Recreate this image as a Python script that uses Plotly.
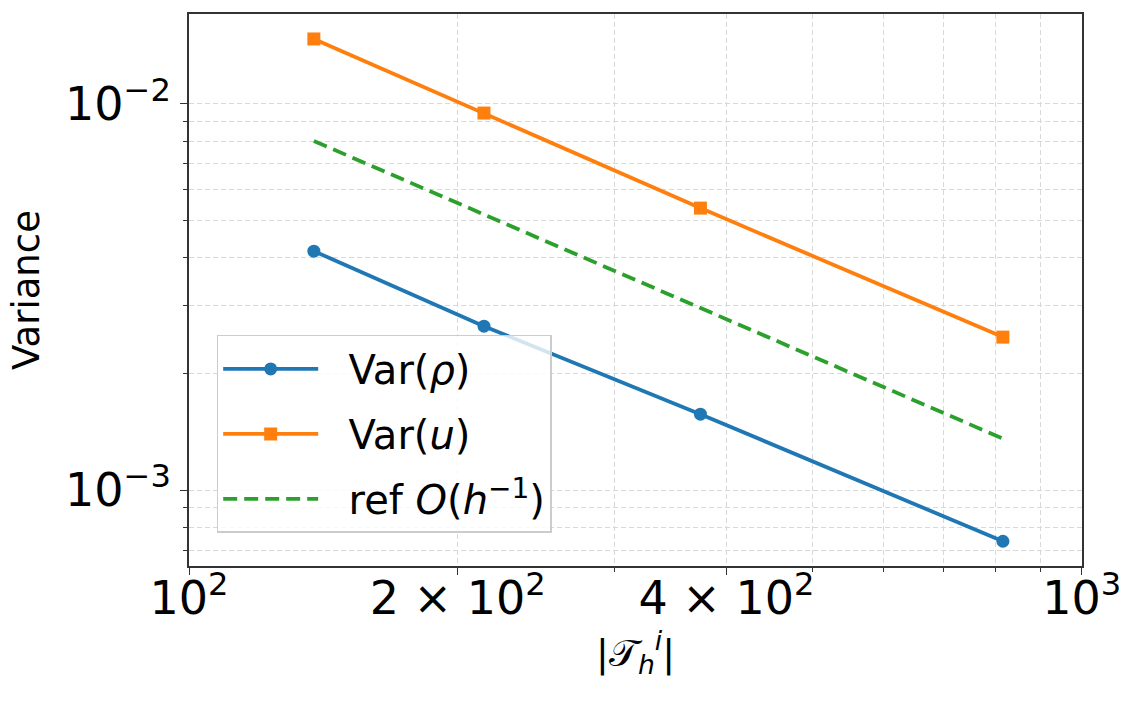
import plotly.graph_objects as go

# Data
mesh_sizes = [138, 214, 374, 816]
var_rho = [0.004156, 0.002658, 0.001573, 0.000738]
var_u = [0.01471, 0.00946, 0.00537, 0.00249]
ref_line = [0.00801, 0.00517, 0.00296, 0.00136]

x_major_vals = [100, 200, 400, 1000]
x_major_text = ["10<sup>2</sup>", "2 × 10<sup>2</sup>", "4 × 10<sup>2</sup>", "10<sup>3</sup>"]
x_minor_vals = [300, 500, 600, 700, 800, 900]
y_major_vals = [0.001, 0.01]
y_major_text = ["10<sup>−3</sup>", "10<sup>−2</sup>"]
y_minor_vals = [0.0007, 0.0008, 0.0009, 0.002, 0.003, 0.004, 0.005, 0.006, 0.007, 0.008, 0.009]

BLUE = "#1f77b4"
ORANGE = "#ff7f0e"
GREEN = "#2ca02c"
FONT = "DejaVu Sans"
GRID = "#d9d9d9"
SPINE = "#333333"
PAD = "&nbsp;&nbsp;"

fig = go.Figure()
fig.add_trace(go.Scatter(x=mesh_sizes, y=var_rho, mode="lines+markers", name=PAD + "Var(<i>ρ</i>)",
                         line=dict(color=BLUE, width=3.8), marker=dict(symbol="circle", size=13, color=BLUE),
                         legendgroup="a"))
fig.add_trace(go.Scatter(x=mesh_sizes, y=var_u, mode="lines+markers", name=PAD + "Var(<i>u</i>)",
                         line=dict(color=ORANGE, width=3.8), marker=dict(symbol="square", size=13, color=ORANGE),
                         legendgroup="b"))
fig.add_trace(go.Scatter(x=mesh_sizes, y=ref_line, mode="lines", name=PAD + "ref <i>O</i>(<i>h</i><sup>−1</sup>)",
                         line=dict(color=GREEN, width=3.8, dash="14px,7px"), legendgroup="c"))

axis_common = dict(
    type="log", showline=True, linecolor=SPINE, linewidth=1.5, mirror=True,
    ticks="outside", ticklen=7, tickwidth=1.3, tickcolor=SPINE,
    showgrid=True, gridcolor=GRID, gridwidth=1.2, griddash="5px,3px",
    zeroline=False, tickfont=dict(family=FONT, size=46, color="black"),
)

fig.update_xaxes(
    **axis_common, range=[2, 3.0003], tickmode="array", tickvals=x_major_vals, ticktext=x_major_text,
    ticklabelstandoff=-16, automargin=True,
    minor=dict(tickmode="array", tickvals=x_minor_vals, ticks="outside", ticklen=4, tickwidth=1.1,
               tickcolor=SPINE, showgrid=True, gridcolor=GRID, gridwidth=1.2, griddash="5px,3px"),
    title=dict(text="|𝒯<sub><i>h</i></sub><sup><i>i</i></sup>|", font=dict(family=FONT, size=38, color="black"),
               standoff=14),
)
fig.update_yaxes(
    **axis_common, range=[-3.196, -1.7678], tickmode="array", tickvals=y_major_vals, ticktext=y_major_text,
    minor=dict(tickmode="array", tickvals=y_minor_vals, ticks="outside", ticklen=4, tickwidth=1.1,
               tickcolor=SPINE, showgrid=True, gridcolor=GRID, gridwidth=1.2, griddash="5px,3px"),
    title=dict(text="Variance", font=dict(family=FONT, size=37, color="black"), standoff=14),
)

fig.update_layout(
    width=1137, height=705,
    margin=dict(l=189, r=55, t=14, b=139),
    paper_bgcolor="white", plot_bgcolor="white",
    font=dict(family=FONT, color="black"),
    showlegend=True,
    legend=dict(x=0.031, y=0.06, xanchor="left", yanchor="bottom",
                bgcolor="rgba(255,255,255,0.8)", bordercolor="#cccccc", borderwidth=1.5,
                font=dict(family=FONT, size=40, color="black"),
                itemwidth=95, tracegroupgap=10),
)

fig.write_html("out.html")
